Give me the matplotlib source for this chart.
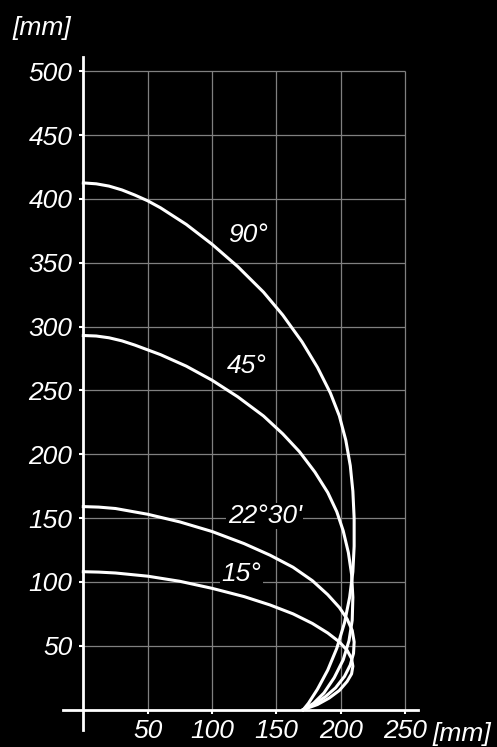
import matplotlib
matplotlib.use("Agg")
import matplotlib.pyplot as plt

plt.rcParams['font.family'] = ['Liberation Sans', 'DejaVu Sans']

# curve values (x in mm, height in mm)
x_90 = [0, 10, 20, 30, 40, 50, 60, 80, 100, 120, 140, 155, 170, 182, 192, 199, 204, 207.5, 209.5, 210.5, 210.5, 209.5, 207, 203, 197, 190, 182, 175, 171]
y_90 = [412.5, 411.8, 410, 407, 403, 398.5, 393, 380, 364.5, 347, 327, 309, 288, 268, 248, 230, 211, 191, 171, 150, 128, 108, 88, 68, 48, 31, 16, 5, 0]

x_45 = [0, 10, 20, 30, 40, 60, 80, 100, 120, 140, 155, 168, 180, 190, 197, 202, 206, 208.5, 209.5, 209, 206.5, 202, 195, 187, 179, 171]
y_45 = [293, 292.6, 291.2, 288.8, 285.5, 278, 269, 258, 245, 230, 216, 202, 186, 170, 155, 140, 123, 106, 88, 70, 54, 39, 25, 13, 5, 0]

x_22 = [0, 12, 25, 50, 75, 100, 125, 145, 163, 178, 190, 199, 205, 209, 210.5, 210, 207.5, 203, 196, 188, 179, 171]
y_22 = [159, 158.6, 157.5, 153, 147, 139.5, 130, 121, 111.5, 101, 90, 80, 71, 62, 53, 44, 35, 26, 17, 10, 4, 0]

x_15 = [0, 12, 25, 50, 75, 100, 125, 145, 163, 178, 190, 199, 205, 208.5, 209.5, 208.5, 205, 199, 191, 182, 171]
y_15 = [108, 107.7, 107, 104.5, 100.5, 95, 88.5, 82, 75, 67.5, 60, 53, 46.5, 40, 34, 28, 22, 15, 9, 4, 0]

x_ticks = [50, 100, 150, 200, 250]
y_ticks = [50, 100, 150, 200, 250, 300, 350, 400, 450, 500]

fig = plt.figure(figsize=(4.97, 7.47), dpi=100, facecolor="black")
ax = fig.add_axes([0.1263, 0.0227, 0.7144, 0.9008])
ax.set_facecolor("black")
ax.set_xlim(-16, 260)
ax.set_ylim(-16, 511)

# grid only inside 0..250 / 0..500
ax.vlines(x_ticks, 0, 500, color="#808080", lw=0.9, zorder=1)
ax.hlines(y_ticks, 0, 250, color="#808080", lw=0.9, zorder=1)

for xs, ys in [(x_90, y_90), (x_45, y_45), (x_22, y_22), (x_15, y_15)]:
    ax.plot(xs, ys, color="white", lw=2.2, solid_joinstyle="round", zorder=3)

for s in ["top", "right"]:
    ax.spines[s].set_visible(False)
ax.spines["left"].set_position(("data", 0))
ax.spines["bottom"].set_position(("data", 0))
for s in ["left", "bottom"]:
    ax.spines[s].set_color("white")
    ax.spines[s].set_linewidth(2)
    ax.spines[s].set_zorder(4)

ax.set_xticks(x_ticks)
ax.set_yticks(y_ticks)
ax.tick_params(colors="white", length=3, width=1.5, labelsize=19, direction="out")
ax.tick_params(axis="y", pad=5)
ax.tick_params(axis="x", pad=4)
for lab in ax.get_xticklabels() + ax.get_yticklabels():
    lab.set_fontstyle("italic")
    lab.set_color("white")

txt = dict(color="white", fontsize=19, fontstyle="italic", ha="center", va="center", zorder=5)
ax.text(128, 372, "90°", **txt)
ax.text(127, 269.5, "45°", **txt)
ax.text(141, 151.5, "22°30'", bbox=dict(facecolor="black", edgecolor="none", pad=1), **txt)
ax.text(123, 106, "15°", bbox=dict(facecolor="black", edgecolor="none", pad=1), **txt)

fig.text(42 / 497, 1 - 28.5 / 747, "[mm]", color="white", fontsize=19, fontstyle="italic", ha="center", va="center")
fig.text(462 / 497, 1 - 733.5 / 747, "[mm]", color="white", fontsize=19, fontstyle="italic", ha="center", va="center")

fig.savefig("out.png", dpi=100, facecolor="black")
